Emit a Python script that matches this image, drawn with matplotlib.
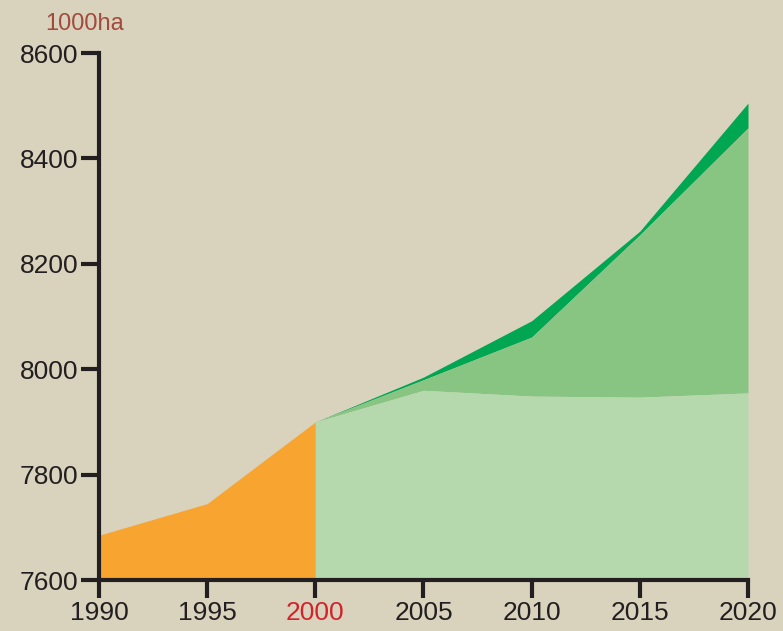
import numpy as np
import matplotlib
matplotlib.use("Agg")
import matplotlib.pyplot as plt
from matplotlib import font_manager

noms = set(f.name for f in font_manager.fontManager.ttflist)
etroite = 'Liberation Sans Narrow' in noms
print(etroite)

plt.rcParams['font.family'] = ['Liberation Sans', 'DejaVu Sans']

# données (1000 ha)
annees_avant = [1990, 1995, 2000]
surface_avant = [7685, 7745, 7900]

annees_apres = [2000, 2005, 2010, 2015, 2020]
surface_basse = [7900, 7960, 7949, 7947, 7955]
surface_moyenne = [7900, 7980, 8061, 8255, 8458]
surface_haute = [7900, 7985, 8092, 8262, 8505]

x_ticks = [1990, 1995, 2000, 2005, 2010, 2015, 2020]
y_ticks = [7600, 7800, 8000, 8200, 8400, 8600]

fond = '#D9D3BE'

if etroite:
    police = {'family': ['Liberation Sans Narrow', 'DejaVu Sans'], 'size': 22}
else:
    police = {'size': 19}

fig = plt.figure(figsize=(7.83, 6.31), dpi=100)
fig.patch.set_facecolor(fond)
ax = fig.add_axes([0.1264, 0.0808, 0.8289, 0.8352])
ax.set_facecolor('none')

ax.fill_between(annees_avant, 7600, surface_avant, color='#F7A431', lw=0)
ax.fill_between(annees_apres, surface_moyenne, surface_haute, color='#00A651', lw=0)
ax.fill_between(annees_apres, surface_basse, surface_moyenne, color='#88C583', lw=0)
ax.fill_between(annees_apres, 7600, surface_basse, color='#B5D8AC', lw=0)

ax.set_xlim(1990, 2020)
ax.set_ylim(7600, 8600)
ax.set_xticks(x_ticks)
ax.set_yticks(y_ticks)
ax.set_xticklabels([str(a) for a in x_ticks], fontdict=police)
ax.set_yticklabels([str(v) for v in y_ticks], fontdict=police)

for s in ['top', 'right']:
    ax.spines[s].set_visible(False)
for s in ['left', 'bottom']:
    ax.spines[s].set_linewidth(3)
    ax.spines[s].set_color('#231F20')
    ax.spines[s].set_capstyle('projecting')
ax.tick_params(axis='both', length=13, width=3, color='#231F20', labelcolor='#231F20', pad=2)
ax.get_xticklabels()[2].set_color('#D2232A')

fig.text(0.0575, 0.962, '1000ha', fontsize=17, color='#A24A3C', ha='left', va='center')

fig.savefig('out.png', dpi=100, facecolor=fond)
